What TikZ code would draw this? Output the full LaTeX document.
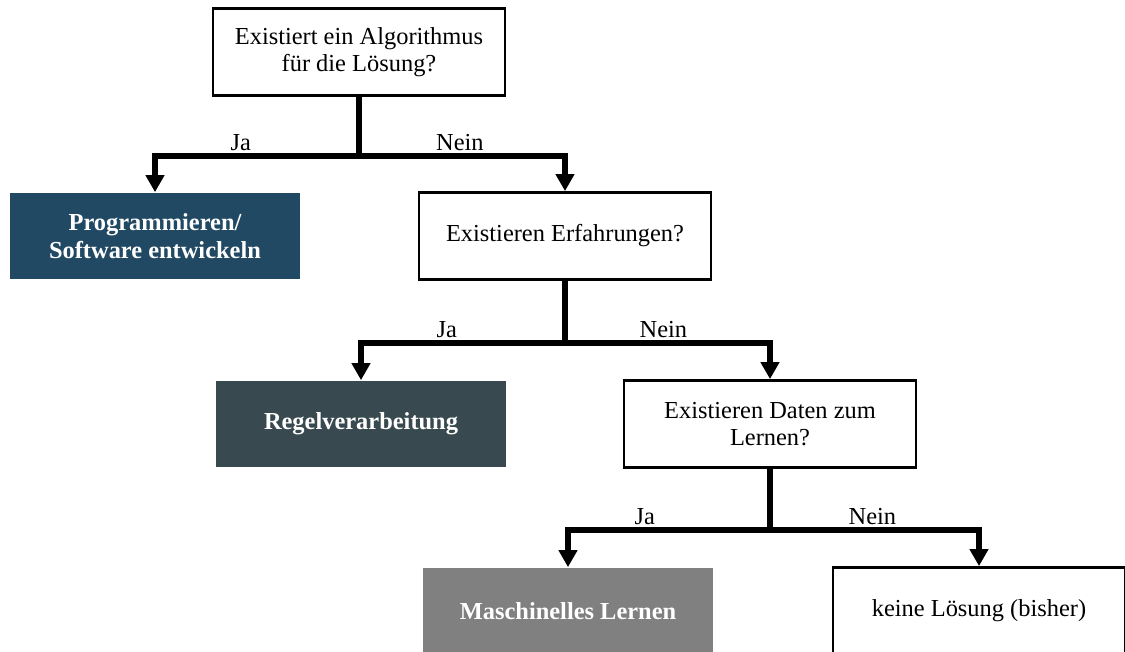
\documentclass[tikz,border=0pt]{standalone}
\usepackage{fontspec}
\setmainfont{Liberation Serif}
\usetikzlibrary{arrows.meta, positioning}

\definecolor{progblue}{RGB}{33,73,99}
\definecolor{regelgrey}{RGB}{56,74,79}
\definecolor{mlgrey}{RGB}{128,128,128}

\tikzset{
  question/.style={draw=black, line width=1.6pt, fill=white, minimum width=5.84cm, minimum height=1.74cm, align=center, font=\fontsize{13.9}{15.4}\selectfont},
  answer/.style={draw=none, minimum width=5.82cm, minimum height=1.74cm, align=center, text=white, font=\fontsize{13.9}{15.8}\selectfont\bfseries},
  stem/.style={line width=3.2pt},
  branch/.style={line width=3.2pt, -{Triangle[length=0.34cm, width=0.36cm]}},
  lbl/.style={anchor=south, inner sep=1.5pt, font=\fontsize{13.9}{15.8}\selectfont}
}

\begin{document}
\begin{tikzpicture}[x=0.02cm, y=-0.02cm]
\clip (0,0) rectangle (1125,652);

% questions
\node[question] (algo) at (359,52) {Existiert ein Algorithmus\\für die Lösung?};
\node[question] (erfahr) at (565,236) {Existieren Erfahrungen?};
\node[question] (daten) at (770,424) {Existieren Daten zum\\Lernen?};

% outcomes
\node[answer, fill=progblue] (prog) at (155,236) {Programmieren/\\Software entwickeln};
\node[answer, fill=regelgrey] (regel) at (361,424) {Regelverarbeitung};
\node[answer, fill=mlgrey] (ml) at (568,611) {Maschinelles Lernen};
\node[question] (keine) at (979,611) {keine Lösung (bisher)};

% junctions below each question
\coordinate (j1) at (algo.south |- 0,156);
\coordinate (j2) at (erfahr.south |- 0,343);
\coordinate (j3) at (daten.south |- 0,530);

% first split
\draw[stem] (algo.south) -- (j1);
\draw[branch] (j1) -| node[lbl, pos=0.29] {Ja} (prog.north);
\draw[branch] (j1) -| node[lbl, pos=0.245] {Nein} (erfahr.north);

% second split
\draw[stem] (erfahr.south) -- (j2);
\draw[branch] (j2) -| node[lbl, pos=0.29] {Ja} (regel.north);
\draw[branch] (j2) -| node[lbl, pos=0.24] {Nein} (daten.north);

% third split
\draw[stem] (daten.south) -- (j3);
\draw[branch] (j3) -| node[lbl, pos=0.31] {Ja} (ml.north);
\draw[branch] (j3) -| node[lbl, pos=0.245] {Nein} (keine.north);

\end{tikzpicture}
\end{document}
